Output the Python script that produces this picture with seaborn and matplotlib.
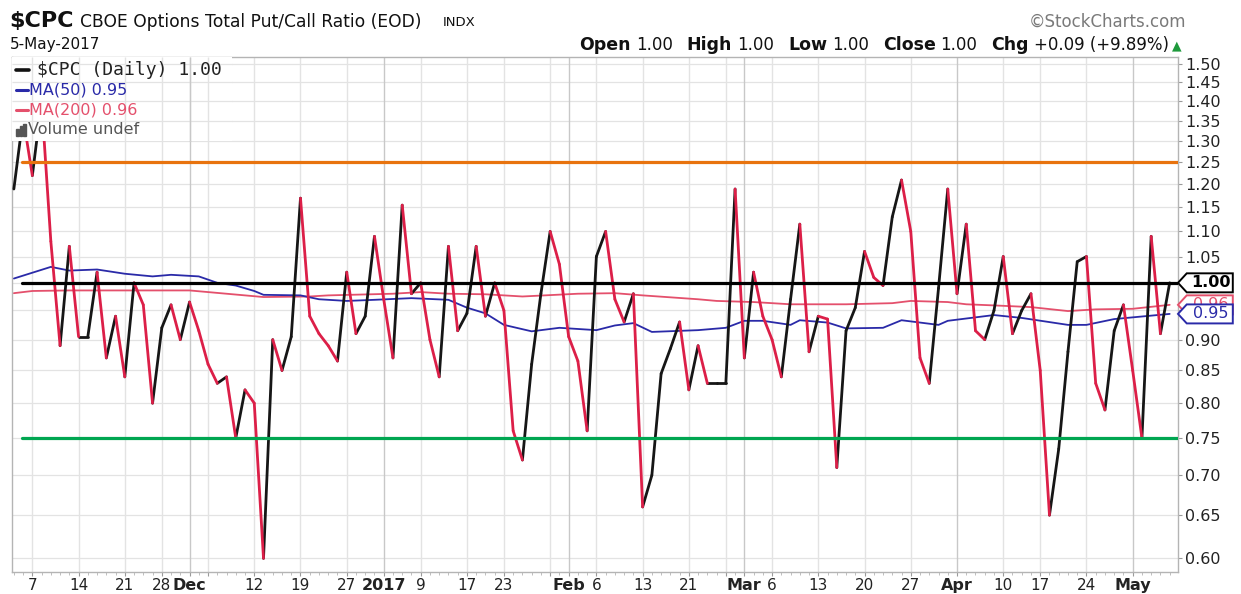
import numpy as np
import pandas as pd
import seaborn as sns
import matplotlib.pyplot as plt
from matplotlib.patches import Rectangle, Polygon
from matplotlib.lines import Line2D
from matplotlib.transforms import blended_transform_factory
from matplotlib.ticker import NullLocator, NullFormatter

sns.set_theme(style="white")
plt.rcParams["font.family"] = ["DejaVu Sans"]

# trading days shown on the chart
holidays = ["2016-11-24", "2016-12-26", "2017-01-02", "2017-01-16", "2017-02-20", "2017-04-14"]
dates = pd.bdate_range("2016-11-03", "2017-05-05", freq="C", holidays=holidays)

# $CPC daily close
cpc = [1.19, 1.36, 1.22, 1.40, 1.08, 0.89, 1.07, 0.905, 0.905, 1.02,
       0.87, 0.94, 0.84, 1.00, 0.96, 0.80, 0.92, 0.96, 0.90, 0.965,
       0.915, 0.86, 0.83, 0.84, 0.75, 0.82, 0.80, 0.60, 0.90, 0.85,
       0.905, 1.17, 0.94, 0.91, 0.89, 0.865, 1.02, 0.91, 0.94, 1.09,
       0.97, 0.87, 1.155, 0.98, 1.00, 0.90, 0.84, 1.07, 0.915, 0.945,
       1.07, 0.94, 1.00, 0.95, 0.76, 0.72, 0.86, 0.98, 1.10, 1.035,
       0.905, 0.865, 0.76, 1.05, 1.10, 0.97, 0.93, 0.98, 0.66, 0.70,
       0.845, 0.885, 0.93, 0.82, 0.89, 0.83, 0.83, 0.83, 1.19, 0.87,
       1.02, 0.94, 0.90, 0.84, 0.97, 1.115, 0.88, 0.94, 0.935, 0.71,
       0.915, 0.955, 1.06, 1.01, 0.995, 1.13, 1.21, 1.10, 0.87, 0.83,
       0.99, 1.19, 0.98, 1.115, 0.915, 0.90, 0.95, 1.05, 0.91, 0.95,
       0.98, 0.85, 0.65, 0.735, 0.88, 1.04, 1.05, 0.83, 0.79, 0.915,
       0.96, 0.85, 0.75, 1.09, 0.91, 1.00]

ma50_dates = ["2016-11-03", "2016-11-09", "2016-11-11", "2016-11-16", "2016-11-21", "2016-11-25",
              "2016-11-29", "2016-12-02", "2016-12-06", "2016-12-08", "2016-12-12", "2016-12-13",
              "2016-12-19", "2016-12-21", "2016-12-27", "2016-12-30", "2017-01-06", "2017-01-12",
              "2017-01-17", "2017-01-19", "2017-01-23", "2017-01-26", "2017-01-31", "2017-02-06",
              "2017-02-08", "2017-02-10", "2017-02-14", "2017-02-22", "2017-02-27", "2017-03-01",
              "2017-03-03", "2017-03-08", "2017-03-09", "2017-03-14", "2017-03-16", "2017-03-22",
              "2017-03-24", "2017-03-30", "2017-03-31", "2017-04-05", "2017-04-07", "2017-04-12",
              "2017-04-20", "2017-04-24", "2017-04-27", "2017-05-05"]
ma50 = [1.008, 1.03, 1.023, 1.025, 1.017, 1.012, 1.015, 1.012, 1.0, 0.995, 0.985, 0.978,
        0.977, 0.97, 0.967, 0.969, 0.972, 0.969, 0.955, 0.945, 0.925, 0.914, 0.92, 0.916,
        0.924, 0.928, 0.913, 0.916, 0.92, 0.932, 0.932, 0.925, 0.933, 0.929, 0.919, 0.92,
        0.933, 0.925, 0.932, 0.938, 0.942, 0.937, 0.925, 0.925, 0.935, 0.944]

ma200_dates = ["2016-11-03", "2016-11-07", "2016-11-11", "2016-12-01", "2016-12-05", "2016-12-09",
               "2016-12-13", "2016-12-20", "2016-12-22", "2017-01-04", "2017-01-09", "2017-01-12",
               "2017-01-19", "2017-01-25", "2017-02-02", "2017-02-08", "2017-02-13", "2017-02-22",
               "2017-02-24", "2017-03-02", "2017-03-08", "2017-03-16", "2017-03-23", "2017-03-27",
               "2017-03-31", "2017-04-04", "2017-04-07", "2017-04-13", "2017-04-20", "2017-04-25",
               "2017-05-01", "2017-05-05"]
ma200 = [0.981, 0.985, 0.986, 0.986, 0.983, 0.977, 0.974, 0.975, 0.977, 0.98, 0.983, 0.98,
         0.979, 0.975, 0.98, 0.981, 0.977, 0.97, 0.967, 0.965, 0.961, 0.961, 0.963, 0.967,
         0.965, 0.961, 0.959, 0.956, 0.949, 0.952, 0.953, 0.96]

y_ticks = [0.60, 0.65, 0.70, 0.75, 0.80, 0.85, 0.90, 0.95, 1.00, 1.05, 1.10,
           1.15, 1.20, 1.25, 1.30, 1.35, 1.40, 1.45, 1.50]

tick_dates = ["2016-11-07", "2016-11-14", "2016-11-21", "2016-11-28", "2016-12-01", "2016-12-05",
              "2016-12-12", "2016-12-19", "2016-12-27", "2017-01-03", "2017-01-09", "2017-01-17",
              "2017-01-23", "2017-01-30", "2017-02-01", "2017-02-06", "2017-02-13", "2017-02-21",
              "2017-02-27", "2017-03-01", "2017-03-06", "2017-03-13", "2017-03-20", "2017-03-27",
              "2017-04-03", "2017-04-10", "2017-04-17", "2017-04-24", "2017-05-01"]
tick_labels = ["7", "14", "21", "28", "Dec", "", "12", "19", "27", "2017", "9", "17",
               "23", "", "Feb", "6", "13", "21", "", "Mar", "6", "13", "20", "27",
               "Apr", "10", "17", "24", "May"]
month_labels = ["Dec", "2017", "Feb", "Mar", "Apr", "May"]

levels = [1.25, 1.00, 0.75]
level_colors = ["#e8730e", "#000000", "#00a651"]

header = [("Open", "1.00"), ("High", "1.00"), ("Low", "1.00"), ("Close", "1.00"),
          ("Chg", "+0.09 (+9.89%)")]

pos = {d: i for i, d in enumerate(dates)}


def idx(ds):
    return [pos[pd.Timestamp(d)] for d in ds]


W, H = 1241, 594
fig = plt.figure(figsize=(W / 100, H / 100), dpi=100)
fig.patch.set_facecolor("white")
L, R, T, B = 12, 1178, 57, 572
ax = fig.add_axes([L / W, 1 - B / H, (R - L) / W, (B - T) / H])
ax.set_facecolor("white")
ax.set_yscale("log")
ax.set_xlim(-0.2, 125.9)
ax.set_ylim(0.585, 1.52)

# grid
tick_pos = idx(tick_dates)
for y in y_ticks:
    ax.axhline(y, color="#e3e3e3", lw=0.9, zorder=0)
for x, lab in zip(tick_pos, tick_labels):
    ax.axvline(x, color="#c8c8c8" if lab in month_labels else "#e3e3e3", lw=1.0, zorder=0)

# moving averages
sns.lineplot(x=idx(ma200_dates), y=ma200, color="#e4506c", lw=1.3, ax=ax, zorder=2)
sns.lineplot(x=idx(ma50_dates), y=ma50, color="#2a2aa8", lw=1.3, ax=ax, zorder=2)

# price line: black on up days, red on down days
rows = []
for i in range(1, len(cpc)):
    d = "up" if cpc[i] >= cpc[i - 1] else "down"
    rows.append((i, i - 1, cpc[i - 1], d))
    rows.append((i, i, cpc[i], d))
seg = pd.DataFrame(rows, columns=["seg", "x", "y", "dir"])
sns.lineplot(data=seg, x="x", y="y", hue="dir", units="seg", estimator=None, sort=False,
             palette={"up": "#161616", "down": "#dc1f48"}, lw=2.0, legend=False, ax=ax,
             zorder=3, solid_capstyle="round")

# level lines
for v, c in zip(levels, level_colors):
    ax.axhline(v, xmin=(22 - L) / (R - L), color=c, lw=2.3, zorder=4)

# legend box hides the line, grid still shows through
lx1 = 23.6
ax.add_patch(Rectangle((-0.2, 1.30), lx1 + 0.2, 0.25, fc="white", ec="none", zorder=5))
ax.hlines([y for y in y_ticks if y > 1.30], -0.2, lx1, color="#e3e3e3", lw=0.9, zorder=5.5)
ax.vlines([x for x in tick_pos if x < lx1], 1.30, 1.52, color="#e3e3e3", lw=1.0, zorder=5.5)
for x, lab in zip(tick_pos, tick_labels):
    if x < lx1 and lab in month_labels:
        ax.vlines(x, 1.30, 1.52, color="#c8c8c8", lw=1.0, zorder=5.6)

ax.set_xlabel("")
ax.set_ylabel("")

# axes / ticks
for s in ax.spines.values():
    s.set_color("#b4b4b4")
    s.set_linewidth(1.0)
ax.yaxis.tick_right()
ax.set_yticks(y_ticks, labels=[f"{v:.2f}" for v in y_ticks])
ax.yaxis.set_minor_locator(NullLocator())
ax.yaxis.set_minor_formatter(NullFormatter())
ax.tick_params(axis="y", which="major", right=True, left=False, length=3, width=0.8,
               color="#9a9a9a", labelsize=11.5, pad=2, labelcolor="#222222")
ax.set_xticks(tick_pos, labels=tick_labels)
ax.set_xticks(range(len(dates)), minor=True)
ax.tick_params(axis="x", which="major", bottom=True, length=3, width=0.8, color="#9a9a9a",
               labelsize=11, pad=1.5, labelcolor="#222222")
ax.tick_params(axis="x", which="minor", bottom=True, length=2.5, width=0.6, color="#b4b4b4")
for t in ax.get_xticklabels():
    if t.get_text() in month_labels:
        t.set_fontweight("bold")
        t.set_fontsize(11.5)

# value tags on the right axis
tr = blended_transform_factory(ax.transAxes, ax.transData)


def tag(v, text, ec, tc, weight, z):
    f = np.exp(9.5 / 539.3)
    x0, x1, x2 = 1.0, 1.0075, 1.047
    ax.add_patch(Polygon([(x0, v), (x1, v * f), (x2, v * f), (x2, v / f), (x1, v / f)],
                         closed=True, transform=tr, fc="white", ec=ec, lw=1.4,
                         clip_on=False, zorder=z))
    ax.text((x1 + x2) / 2 + 0.001, v, text, transform=tr, ha="center", va="center",
            color=tc, fontsize=11.5, fontweight=weight, clip_on=False, zorder=z + 0.1)


tag(ma200[-1], "0.96", "#e4506c", "#e4506c", "normal", 10)
tag(ma50[-1], "0.95", "#2a2aa8", "#2a2aa8", "normal", 11)
tag(cpc[-1], "1.00", "#000000", "#000000", "bold", 12)


def px(x, y):
    return x / W, 1 - y / H


# legend entries
fig.add_artist(Line2D([16 / W, 29 / W], [1 - 70 / H] * 2, color="#111111", lw=2.6))
fig.text(*px(37, 70), "$CPC (Daily) 1.00", family="DejaVu Sans Mono", fontsize=13,
         color="#222222", va="center")
fig.add_artist(Line2D([16 / W, 28 / W], [1 - 90 / H] * 2, color="#2a2aa8", lw=2.2))
fig.text(*px(29, 90), "MA(50) 0.95", fontsize=11.5, color="#2a2aa8", va="center")
fig.add_artist(Line2D([16 / W, 28 / W], [1 - 110 / H] * 2, color="#e4506c", lw=2.2))
fig.text(*px(29, 110), "MA(200) 0.96", fontsize=11.5, color="#e4506c", va="center")
for bx, bh in zip([16, 19.5, 23], [7, 10, 12]):
    fig.add_artist(Rectangle(px(bx, 136), 2.8 / W, bh / H, color="#555555"))
fig.text(*px(28, 130), "Volume undef", fontsize=11.5, color="#555555", va="center")

# header
fig.text(*px(9, 21), "$CPC", fontsize=16, fontweight="bold", color="#111111", va="center")
fig.text(*px(80, 22), "CBOE Options Total Put/Call Ratio (EOD)", fontsize=12.3,
         color="#111111", va="center")
fig.text(*px(443, 23), "INDX", fontsize=9.5, color="#111111", va="center")
fig.text(*px(10, 45), "5-May-2017", fontsize=11, color="#111111", va="center")
fig.text(*px(1186, 22), "\u00a9StockCharts.com", fontsize=12, color="#7a7a7a",
         va="center", ha="right")

# Open/High/Low/Close line, laid out left to right then shifted to end at the triangle
renderer = fig.canvas.get_renderer()
pieces = []
x = 0.0
for lab, val in header:
    t1 = fig.text(0, 0, lab, fontsize=12.5, fontweight="bold", color="#111111", va="center")
    w1 = t1.get_window_extent(renderer).width
    pieces.append((t1, x))
    x += w1 + 5
    t2 = fig.text(0, 0, val, fontsize=12, color="#111111", va="center")
    w2 = t2.get_window_extent(renderer).width
    pieces.append((t2, x))
    x += w2 + 14
end_x = 1169
shift = end_x - (x - 14)
for t, x0 in pieces:
    t.set_position(px(x0 + shift, 45))
fig.text(*px(1172, 46), "\u25b2", fontsize=9, color="#1e9a3c", va="center")

fig.savefig("out.png", dpi=100, facecolor="white")
